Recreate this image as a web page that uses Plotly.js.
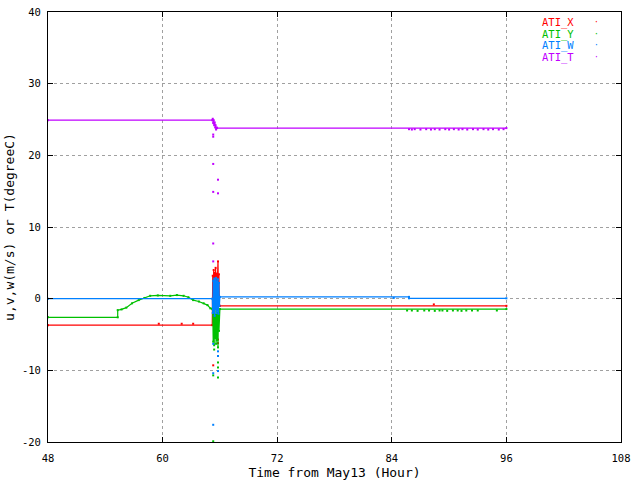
<!DOCTYPE html>
<html>
<head>
<meta charset="utf-8">
<script src="https://cdn.plot.ly/plotly-3.0.1.min.js"></script>
<style>
  html, body { margin: 0; padding: 0; background: #ffffff; }
  #chart { width: 640px; height: 480px; }
</style>
</head>
<body>
<div id="chart"></div>
<script>
// hours from May13 00:00
var X_HOURS = [48, 65.2, 65.25, 65.3, 65.35, 65.4, 65.45, 65.5, 65.55, 65.6, 65.65, 65.7, 65.75, 65.8, 65.85, 65.9, 65.95, 66.0, 96.0];
var X_VALS = [-3.7, -3.7, 3.2, -1.5, 4.0, 0.5, 3.6, -1.0, 4.3, 0.0, 3.5, -0.8, 3.0, 5.2, 0.5, 3.4, -1.0, -1.0, -1.0];
var X_OUT_HOURS = [59.6, 62.0, 63.2, 65.8, 65.8, 65.8, 65.3, 88.4];
var X_OUT_VALS = [-3.5, -3.5, -3.5, -5.7, -6.2, -8.0, -9.3, -0.8];

var Y_HOURS = [48, 55.3, 55.3, 55.7, 56.2, 56.8, 57.5, 58.1, 58.7, 59.5, 60.8, 61.5, 62.2, 62.7, 63.2, 63.8, 64.3, 64.7, 65.0, 65.2,
  65.25, 65.3, 65.35, 65.4, 65.45, 65.5, 65.55, 65.6, 65.65, 65.7, 65.75, 65.8, 65.85, 65.9, 65.95, 66.0, 96.0];
var Y_VALS = [-2.6, -2.6, -1.6, -1.5, -1.25, -0.65, -0.2, 0.1, 0.4, 0.45, 0.4, 0.5, 0.4, 0.2, -0.2, -0.4, -0.65, -0.9, -1.35, -1.4,
  -1.5, -6.0, -2.0, -6.5, -1.8, -5.5, -2.2, -6.3, -1.6, -5.8, -2.0, -6.8, -1.5, -4.5, -1.45, -1.45, -1.45];
var Y_OUT_HOURS = [65.4, 65.3, 65.8, 65.8, 65.8, 65.3,
  85.6, 86.1, 86.7, 87.4, 87.9, 88.5, 89.0, 89.3, 89.8, 90.4, 90.9, 91.3, 91.8, 92.4, 93.0, 95.0];
var Y_OUT_VALS = [-7.1, -10.7, -8.9, -9.6, -11.0, -19.9,
  -1.65, -1.65, -1.7, -1.65, -1.65, -1.7, -1.65, -1.65, -1.7, -1.65, -1.65, -1.7, -1.65, -1.65, -1.65, -1.65];

var W_HOURS = [48, 65.2, 65.25, 65.3, 65.35, 65.4, 65.45, 65.5, 65.55, 65.6, 65.65, 65.7, 65.75, 65.8, 65.85, 65.9, 65.95, 66.0, 85.8, 85.8, 96.0];
var W_VALS = [0.0, 0.0, -2.0, 2.5, -1.8, 2.8, -2.4, 2.6, -1.5, 2.9, -2.0, 2.4, -1.7, 2.7, -2.1, 2.2, -1.0, 0.25, 0.25, 0.05, 0.05];
var W_OUT_HOURS = [65.3, 65.8, 65.8, 65.8, 65.3, 65.3, 84.2];
var W_OUT_VALS = [-6.3, -7.35, -8.0, -10.1, -10.4, -17.6, 0.1];

var T_HOURS = [48, 65.2, 65.25, 65.3, 65.35, 65.4, 65.45, 65.5, 65.55, 65.6, 65.65, 65.7, 96.0];
var T_VALS = [24.9, 24.9, 25.1, 24.5, 24.9, 24.2, 24.6, 23.9, 24.2, 23.6, 23.9, 23.8, 23.8];
var T_OUT_HOURS = [65.3, 65.3, 65.3, 65.3, 65.8, 65.8, 65.3, 65.3,
  85.8, 86.1, 86.4, 87.0, 87.6, 88.1, 88.5, 89.0, 89.6, 90.0, 90.5, 91.0, 91.4, 91.9, 92.5, 93.0, 93.6, 94.1, 94.6, 95.2, 95.7];
var T_OUT_VALS = [22.9, 22.6, 18.8, 14.9, 16.6, 14.7, 7.7, 5.2,
  23.65, 23.6, 23.65, 23.6, 23.65, 23.6, 23.65, 23.6, 23.65, 23.6, 23.65, 23.6, 23.65, 23.6, 23.65, 23.6, 23.65, 23.6, 23.65, 23.6, 23.65];

var NAMES = ["ATI_X", "ATI_Y", "ATI_W", "ATI_T"];
var COLORS = ["#ff0000", "#00c000", "#0080ff", "#c000ff"];

var X_TICKS = [48, 60, 72, 84, 96, 108];
var Y_TICKS = [-20, -10, 0, 10, 20, 30, 40];

function seriesTrace(name, color, hours, vals, outHours, outVals) {
  var x = hours.slice();
  var y = vals.slice();
  for (var i = 0; i < outHours.length; i++) {
    x.push(null, outHours[i]);
    y.push(null, outVals[i]);
  }
  return {
    x: x,
    y: y,
    name: name,
    type: "scatter",
    mode: "lines+markers",
    connectgaps: false,
    line: { color: color, width: 1.2 },
    marker: { color: color, size: 2, symbol: "square" },
    showlegend: false,
    hoverinfo: "skip",
  };
}

var traces = [
  seriesTrace(NAMES[0], COLORS[0], X_HOURS, X_VALS, X_OUT_HOURS, X_OUT_VALS),
  seriesTrace(NAMES[1], COLORS[1], Y_HOURS, Y_VALS, Y_OUT_HOURS, Y_OUT_VALS),
  seriesTrace(NAMES[2], COLORS[2], W_HOURS, W_VALS, W_OUT_HOURS, W_OUT_VALS),
  seriesTrace(NAMES[3], COLORS[3], T_HOURS, T_VALS, T_OUT_HOURS, T_OUT_VALS),
];

// gnuplot style key: coloured text, sample dot on the right
var annotations = [];
NAMES.forEach(function (n, i) {
  var yp = 0.976 - i * 0.0272;
  annotations.push({
    xref: "paper", yref: "paper", x: 0.921, y: yp,
    xanchor: "right", yanchor: "middle", showarrow: false,
    text: n, font: { color: COLORS[i] },
  });
  annotations.push({
    xref: "paper", yref: "paper", x: 0.958, y: yp,
    xanchor: "center", yanchor: "middle", showarrow: false,
    text: "·", font: { color: COLORS[i], size: 8 },
  });
});

var axisBase = {
  showline: true,
  linecolor: "#000000",
  linewidth: 1,
  mirror: "ticks",
  ticks: "inside",
  ticklen: 5,
  tickcolor: "#000000",
  showgrid: true,
  gridcolor: "#a0a0a0",
  griddash: "3px,3px",
  gridwidth: 1,
  zeroline: false,
  automargin: false,
};

var layout = {
  width: 640,
  height: 480,
  margin: { l: 48, r: 19, t: 12, b: 38 },
  paper_bgcolor: "#ffffff",
  plot_bgcolor: "#ffffff",
  font: { family: "DejaVu Sans Mono, monospace", size: 10.5, color: "#000000" },
  showlegend: false,
  xaxis: Object.assign({}, axisBase, {
    range: [48, 108],
    tickmode: "array",
    tickvals: X_TICKS,
    ticktext: X_TICKS.map(String),
    ticklabelstandoff: 6,
    title: { text: "Time from May13 (Hour)", standoff: 6 },
  }),
  yaxis: Object.assign({}, axisBase, {
    range: [-20, 40],
    tickmode: "array",
    tickvals: Y_TICKS,
    ticktext: Y_TICKS.map(String),
    ticklabelstandoff: 4,
    title: { text: "u,v,w(m/s) or T(degreeC)", standoff: 4 },
  }),
  annotations: annotations,
};

Plotly.newPlot("chart", traces, layout, { staticPlot: true, displayModeBar: false });
</script>
</body>
</html>
